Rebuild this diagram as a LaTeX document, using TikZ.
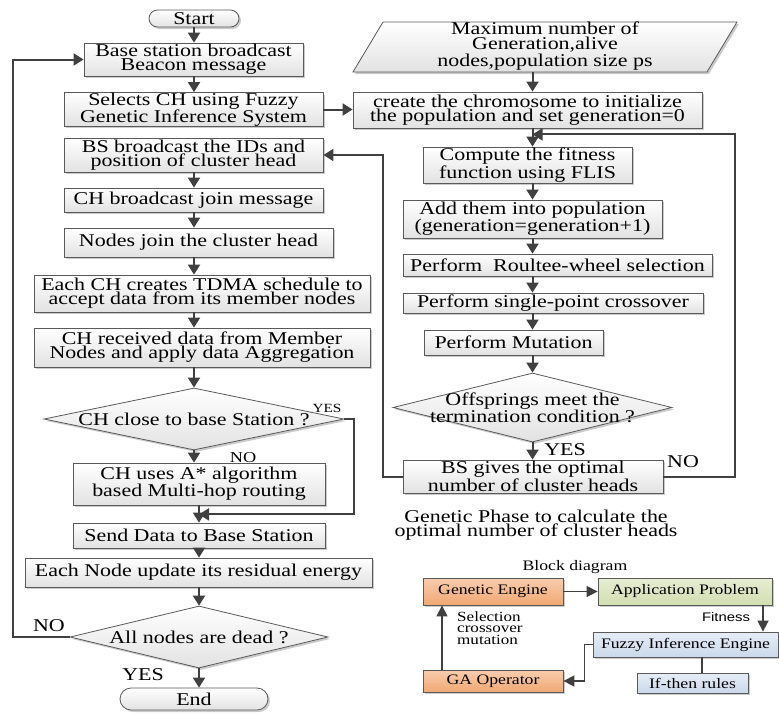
\documentclass[tikz,border=0pt]{standalone}
\usepackage{fontspec}
\setmainfont{Liberation Serif}[FakeStretch=1.22]
\newfontfamily\sansf{Liberation Sans}[FakeStretch=1.2]
\usetikzlibrary{shapes.geometric,shapes.misc,shadows,arrows.meta,calc}
\definecolor{arrc}{HTML}{404040}
\definecolor{bordc}{HTML}{5A5A5A}
\definecolor{boxB}{HTML}{E2E2E2}
\definecolor{orT}{HTML}{F9CDAE}
\definecolor{orB}{HTML}{F0A873}
\definecolor{grT}{HTML}{E6EDD3}
\definecolor{grB}{HTML}{D2DEB2}
\definecolor{blT}{HTML}{E6EDF7}
\definecolor{blB}{HTML}{CBD9EB}
\tikzset{
  mainfont/.style={font=\fontsize{18}{14}\selectfont},
  smallfont/.style={font=\fontsize{14.5}{12}\selectfont},
  sz/.style 2 args={minimum width=#1pt, minimum height=#2pt},
  shade/.style={top color=white, bottom color=boxB,
    drop shadow={shadow xshift=2pt, shadow yshift=-2pt, fill=black!45, opacity=.45}},
  fbox/.style={rectangle, draw=bordc, line width=0.8pt, shade, inner sep=0pt, align=center, mainfont},
  dbox/.style={diamond, draw=bordc, line width=0.8pt, shade, inner sep=0pt},
  term/.style={rounded rectangle, draw=bordc, line width=0.8pt, shade, inner sep=0pt, mainfont},
  pshape/.style={draw=bordc, line width=0.8pt, shade},
  txt/.style={inner sep=0pt, align=center, mainfont},
  lab/.style={inner sep=0pt, mainfont},
  bbox/.style={rectangle, draw=bordc, line width=0.8pt, inner sep=0pt, smallfont,
    drop shadow={shadow xshift=2pt, shadow yshift=-2pt, fill=black!45, opacity=.45}},
  arr/.style={draw=arrc, line width=2pt, -{Triangle[length=10pt,width=12pt]}},
  barr/.style={draw=arrc, line width=1.5pt, -{Triangle[length=11pt,width=11pt]}},
}
\begin{document}
\begin{tikzpicture}[x=1pt,y=-1pt]
\useasboundingbox (0,0) rectangle (779,713);

% ---------------- left column ----------------
\node[term, sz={90}{17}] (start) at (194,18.5) {Start};
\node[fbox, sz={219}{33}] (b1) at (193.5,59.5) {Base station broadcast\\Beacon message};
\node[fbox, sz={259}{33}] (b2) at (193.5,109.5) {Selects CH using Fuzzy\\Genetic Inference System};
\node[fbox, sz={259}{34}] (b3) at (193.5,155) {BS broadcast the IDs and\\position of cluster head};
\node[fbox, sz={259}{24}] (b4) at (193.5,200) {CH broadcast join message};
\node[fbox, sz={269}{29}] (b5) at (198.5,242.5) {Nodes join the cluster head};
\node[fbox, sz={336}{37}] (b6) at (202,293.5) {Each CH creates TDMA schedule to\\accept data from its member nodes};
\node[fbox, sz={336}{39}] (b7) at (202,347.5) {CH received data from Member\\Nodes and apply data Aggregation};
\node[dbox, sz={300}{62}] (d1) at (194,419) {};
\node[txt] (d1t) at (d1.center) {CH close to base Station ?};
\node[fbox, sz={252}{42}] (b8) at (199,484) {CH uses A* algorithm\\based Multi-hop routing};
\node[fbox, sz={252}{25}] (b9) at (199,535.5) {Send Data to Base Station};
\node[fbox, sz={347}{29}] (b10) at (198.5,572.5) {Each Node update its residual energy};
\node[dbox, sz={258}{62}] (d2) at (199,637) {};
\node[txt] (d2t) at (d2.center) {All nodes are dead ?};
\node[term, sz={148}{22}] (end) at (194,699) {End};

\node[lab, font=\fontsize{12.5}{12}\selectfont] (yes1) at (327,408) {YES};
\node[lab, font=\fontsize{15}{12}\selectfont] (no1) at (243,458) {NO};
\node[lab] (no2) at (49,626) {NO};
\node[lab] (yes2) at (143,675) {YES};

% ---------------- right column ----------------
\path[pshape] (353,72) -- (383,22) -- (737,22) -- (707,72) -- cycle;
\node[txt, font=\fontsize{18}{15}\selectfont] (par) at (545,46) {Maximum number of\\Generation,alive\\nodes,population size ps};
\coordinate (parb) at (532.5,72);
\node[fbox, sz={349}{36}] (c0) at (527.5,110) {create the chromosome to initialize\\the population and set generation=0};
\node[fbox, sz={209}{36}] (c1) at (527.5,165) {Compute the fitness\\function using FLIS};
\node[fbox, sz={259}{38}] (c2) at (532.5,219) {Add them into population\\(generation=generation+1)};
\node[fbox, sz={309}{22}] (c3) at (557.5,265) {Perform~ Roultee-wheel selection};
\node[fbox, sz={300}{20}] (c4) at (553,303) {Perform single-point crossover};
\node[fbox, sz={179}{25}] (c5) at (513.5,342.5) {Perform Mutation};
\node[dbox, sz={279}{69}] (d3) at (532.5,407.5) {};
\node[txt] (d3t) at (d3.center) {Offsprings meet the\\termination condition ?};
\node[fbox, sz={260}{33}] (c6) at (533,476.5) {BS gives the optimal\\number of cluster heads};
\node[lab] (yes3) at (565,450) {YES};
\node[lab] (no3) at (683,462) {NO};
\node[txt, font=\fontsize{18}{14.5}\selectfont] (cap) at (536,525) {Genetic Phase to calculate the\\optimal number of cluster heads};

% ---------------- block diagram ----------------
\node[lab, smallfont] (bd) at (575,567) {Block diagram};
\node[bbox, top color=orT, bottom color=orB, sz={140}{27}] (ge) at (493,591.5) {Genetic Engine};
\node[bbox, top color=grT, bottom color=grB, sz={174}{27}] (ap) at (685,591.5) {Application Problem};
\node[bbox, top color=blT, bottom color=blB, sz={185}{25}] (fi) at (685.5,644.5) {Fuzzy Inference Engine};
\node[bbox, top color=blT, bottom color=blB, sz={111}{20}] (it) at (692.5,683) {If-then rules};
\node[bbox, top color=orT, bottom color=orB, sz={140}{22}] (ga) at (493,681) {GA Operator};
\node[lab, font=\sansf\fontsize{12.4}{12}\selectfont] (fit) at (726,617) {Fitness};
\node[inner sep=0pt, align=left, anchor=west, font=\fontsize{14}{11.5}\selectfont] (sel) at (457,628) {Selection\\crossover\\mutation};

% ---------------- connectors: left ----------------
\draw[arr] (start.south -| d1.north) -- (b1.north -| d1.north);
\draw[arr] (b1.south -| d1.north) -- (b2.north -| d1.north);
\draw[arr] (b3.south -| d1.north) -- (b4.north -| d1.north);
\draw[arr] (b4.south -| d1.north) -- (b5.north -| d1.north);
\draw[arr] (b5.south -| d1.north) -- (b6.north -| d1.north);
\draw[arr] (b6.south -| d1.north) -- (b7.north -| d1.north);
\draw[arr] (b7.south -| d1.north) -- (d1.north);
\draw[arr] (d1.south) -- (b8.north -| d1.south);
\draw[arr] (b8.south -| d2.north) -- (b9.north -| d2.north);
\draw[arr] (b9.south -| d2.north) -- (b10.north -| d2.north);
\draw[arr] (b10.south -| d2.north) -- (d2.north);
\draw[arr] (d2.south) -- (end.north -| d2.south);
\draw[arr] (d1.east) -- ++(10,0) |- ($(b8.south -| d2.north)+(0,9)$);
\draw[arr] (d2.west) -- ++(-57,0) |- (b1.west);

% ---------------- connectors: right ----------------
\draw[arr] (b2.east) -- (b2.east -| c0.west);
\draw[arr] (parb) -- (c0.north -| parb);
\draw[arr] (c0.south -| d3.north) -- (c1.north -| d3.north);
\draw[arr] (c1.south -| d3.north) -- (c2.north -| d3.north);
\draw[arr] (c2.south -| d3.north) -- (c3.north -| d3.north);
\draw[arr] (c3.south -| d3.north) -- (c4.north -| d3.north);
\draw[arr] (c4.south -| d3.north) -- (c5.north -| d3.north);
\draw[arr] (c5.south -| d3.north) -- (d3.north);
\draw[arr] (d3.south) -- (c6.north -| d3.south);
\draw[arr] (c6.west) -- ++(-20,0) |- (b3.east);
\draw[arr] (c6.east) -- ++(72,0) |- ($(c0.south -| d3.north)+(0,6)$);

% ---------------- connectors: block diagram ----------------
\draw[barr] (ge.east) -- (ap.west);
\draw[barr] ([xshift=78pt]ap.south) -- ([xshift=78pt]ap.south |- fi.north);
\draw[barr] (fi.west) -- ++(-8,0) |- (ga.east);
\draw[barr] ([xshift=-51pt]ga.north) -- ([xshift=-51pt]ga.north |- ge.south);
\draw[draw=arrc, line width=1.5pt] ([xshift=16.5pt]fi.south) -- ([xshift=16.5pt]fi.south |- it.north);
\end{tikzpicture}
\end{document}
